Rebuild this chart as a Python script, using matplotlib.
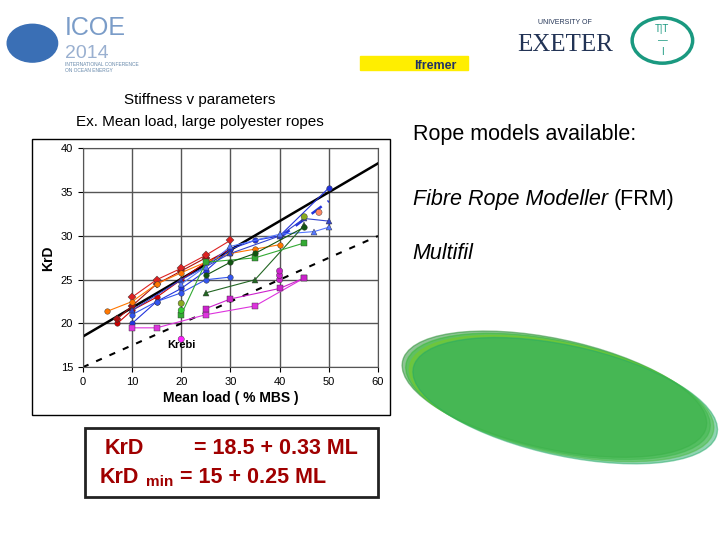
import matplotlib
matplotlib.use("Agg")
import matplotlib.pyplot as plt
from matplotlib.patches import Rectangle, Ellipse, Circle

plt.rcParams["font.family"] = ["Liberation Sans", "DejaVu Sans"]

# mean load (% MBS) and KrD series
series = [
    # (x, y, colour, marker)
    ([7, 10, 15, 20, 25, 30], [20.0, 21.5, 23.0, 25.0, 27.0, 28.5], "#cc0000", "o"),
    ([7, 10, 15, 20, 25], [20.5, 22.0, 24.5, 26.0, 27.5], "#aa1111", "D"),
    ([10, 15, 20, 25, 30], [23.0, 25.0, 26.3, 27.8, 29.5], "#dd2222", "D"),
    ([5, 10, 15, 20, 25, 30, 35, 40], [21.4, 22.5, 24.5, 25.8, 27.0, 28.0, 28.5, 29.0], "#ff7700", "o"),
    ([10, 15, 20, 25, 30, 35, 40, 50], [20.0, 22.5, 24.0, 26.0, 28.5, 29.5, 30.0, 35.5], "#2233dd", "o"),
    ([10, 15, 20, 25, 30], [21.0, 22.5, 23.5, 25.0, 25.3], "#3355ee", "o"),
    ([10, 20, 30, 40, 45, 50], [21.5, 25.0, 28.0, 30.0, 32.0, 31.7], "#3344cc", "^"),
    ([20, 25, 30, 40, 47, 50], [24.5, 26.5, 28.8, 30.2, 30.5, 31.0], "#5577ff", "^"),
    ([25, 35, 45], [23.5, 25.0, 31.2], "#226622", "^"),
    ([20, 25, 35, 45], [21.0, 27.0, 27.5, 29.2], "#33aa33", "s"),
    ([25, 30, 35, 45], [25.5, 27.0, 28.0, 31.0], "#115511", "o"),
    ([10, 15, 25, 35, 45], [19.5, 19.5, 21.0, 22.0, 25.2], "#dd33dd", "s"),
    ([25, 30, 40, 45], [21.7, 22.8, 24.0, 25.2], "#cc22cc", "s"),
]
singles_x = [20, 20, 20, 40, 40, 40, 45, 48]
singles_y = [18.2, 21.5, 22.3, 25.0, 25.5, 26.0, 32.2, 32.7]
singles_c = ["#ff22ff", "#33cc33", "#88aa22", "#cc22cc", "#cc22cc", "#cc22cc", "#88aa22", "#ff8866"]

fit_x = [0, 60]
dash_x = [40, 50]
dash_y = [29.8, 34.0]

fig = plt.figure(figsize=(7.2, 5.4), dpi=100)
ax = fig.add_axes([0.115, 0.32, 0.41, 0.405])

# slide texts / logos
fig.patches.append(Circle((0.045, 0.92), 0.035, transform=fig.transFigure, color="#3a6fb5"))
fig.text(0.09, 0.935, "ICOE", fontsize=18, color="#7a9cc8")
fig.text(0.09, 0.893, "2014", fontsize=14, color="#9ab0d0")
fig.text(0.09, 0.885, "INTERNATIONAL CONFERENCE\nON OCEAN ENERGY", fontsize=3.5, color="#6688aa", va="top")
fig.patches.append(Rectangle((0.50, 0.87), 0.15, 0.026, transform=fig.transFigure, color="#ffee00"))
fig.text(0.605, 0.873, "Ifremer", fontsize=9, weight="bold", color="#223366", ha="center")
fig.text(0.785, 0.905, "EXETER", fontsize=18, color="#223355", ha="center", family="Liberation Serif")
fig.text(0.785, 0.955, "UNIVERSITY OF", fontsize=5, color="#223355", ha="center")
fig.patches.append(Circle((0.92, 0.925), 0.042, transform=fig.transFigure, facecolor="white",
                          edgecolor="#1a9980", lw=2.5))
fig.text(0.92, 0.925, "T|T\n—\nI", fontsize=7, color="#1a9980", ha="center", va="center")

fig.text(0.278, 0.808, "Stiffness v parameters", fontsize=11, ha="center")
fig.text(0.278, 0.766, "Ex. Mean load, large polyester ropes", fontsize=11, ha="center")

fig.text(0.573, 0.74, "Rope models available:", fontsize=15.5)
fig.text(0.573, 0.62, "Fibre Rope Modeller", fontsize=15.5, style="italic")
fig.text(0.852, 0.62, "(FRM)", fontsize=15.5)
fig.text(0.573, 0.52, "Multifil", fontsize=15.5, style="italic")

# rough stand-in for the rope render
for i, c in enumerate(["#1f8a2a", "#33bb33", "#77cc22", "#22aa66"]):
    fig.patches.append(Ellipse((0.77 + 0.005 * i, 0.27 - 0.004 * i), 0.44, 0.2, angle=-18,
                               transform=fig.transFigure, color=c, alpha=0.5))

# chart frame
fig.patches.append(Rectangle((0.045, 0.232), 0.497, 0.51, transform=fig.transFigure,
                             fill=False, edgecolor="black", lw=1))

for x, y, c, m in series:
    ax.plot(x, y, "-", color=c, lw=0.8, marker=m, ms=4, mec="#333333", mew=0.3, zorder=3)
ax.scatter(singles_x, singles_y, c=singles_c, s=20, edgecolors="#333333", linewidths=0.3, zorder=4)
ax.plot(fit_x, [18.5 + 0.33 * v for v in fit_x], color="black", lw=1.8, zorder=2)
ax.plot(fit_x, [15 + 0.25 * v for v in fit_x], color="black", lw=1.5, ls=(0, (3, 4)), zorder=2)
ax.plot(dash_x, dash_y, color="#2233dd", lw=1.8, ls=(0, (5, 3)), zorder=2)
ax.text(20, 17.2, "Krebi", fontsize=8, weight="bold", ha="center")

ax.set_xlim(0, 60)
ax.set_ylim(15, 40)
ax.set_xticks(range(0, 61, 10))
ax.set_yticks(range(15, 41, 5))
ax.grid(True, color="#555555", lw=1)
ax.tick_params(labelsize=8)
for s in ax.spines.values():
    s.set_color("#555555")
ax.set_xlabel("Mean load ( % MBS )", fontsize=10, weight="bold", labelpad=3)
ax.set_ylabel("KrD", fontsize=10, weight="bold")

# equation box
fig.patches.append(Rectangle((0.118, 0.08), 0.407, 0.127, transform=fig.transFigure,
                             fill=False, edgecolor="#222222", lw=2))
red = "#a00000"
eq = dict(fontsize=15.5, weight="bold", color=red)
fig.text(0.146, 0.16, "KrD", **eq)
fig.text(0.27, 0.16, "= 18.5 + 0.33 ML", **eq)
fig.text(0.139, 0.106, "KrD", **eq)
fig.text(0.203, 0.1, "min", fontsize=11, weight="bold", color=red)
fig.text(0.25, 0.106, "= 15 + 0.25 ML", **eq)

fig.savefig("out.png", dpi=100)
